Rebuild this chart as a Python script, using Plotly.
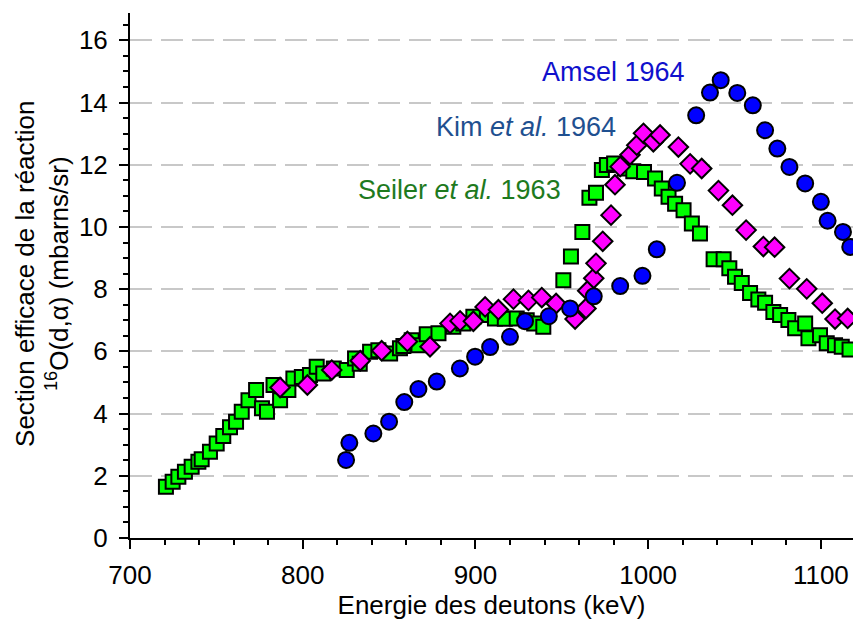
import plotly.graph_objects as go

# Amsel 1964 (blue circles)
amsel_x = [825.1, 827.0, 840.9, 850.0, 858.8, 867.0, 877.6, 891.0, 899.8, 908.5, 920.0, 928.7,
           942.5, 954.8, 968.5, 983.8, 996.7, 1005.0, 1016.7, 1027.8, 1035.8, 1042.0, 1051.6,
           1060.6, 1067.7, 1074.8, 1081.8, 1090.9, 1100.0, 1103.9, 1112.8, 1117.0]
amsel_y = [2.51, 3.06, 3.36, 3.74, 4.37, 4.79, 5.03, 5.45, 5.83, 6.14, 6.47, 6.97,
           7.13, 7.38, 7.77, 8.10, 8.43, 9.28, 11.42, 13.59, 14.32, 14.72, 14.31,
           13.91, 13.11, 12.52, 11.93, 11.40, 10.81, 10.20, 9.84, 9.36]

# Kim et al. 1964 (magenta diamonds)
kim_x = [786.9, 802.7, 816.8, 833.3, 845.7, 860.6, 873.7, 885.3, 891.1, 898.8, 905.6, 913.3,
         922.0, 930.7, 938.4, 946.7, 957.7, 964.0, 965.0, 968.5, 969.8, 973.7, 978.5, 980.8,
         983.8, 989.5, 993.4, 997.3, 1003.0, 1006.9, 1017.5, 1024.3, 1031.0, 1040.7, 1048.8,
         1056.7, 1066.7, 1073.2, 1081.8, 1091.8, 1100.8, 1108.2, 1115.5]
kim_y = [4.84, 4.92, 5.40, 5.70, 6.02, 6.32, 6.15, 6.90, 6.98, 6.97, 7.43, 7.34,
         7.68, 7.64, 7.73, 7.54, 7.04, 7.38, 7.95, 8.35, 8.83, 9.54, 10.38, 11.36,
         11.94, 12.32, 12.63, 13.01, 12.74, 12.96, 12.57, 12.03, 11.88, 11.17, 10.70,
         9.90, 9.37, 9.35, 8.34, 8.01, 7.55, 7.04, 7.06]

# Seiler et al. 1963 (green squares)
seiler_x = [720.8, 724.7, 728.0, 731.8, 735.7, 739.6, 741.5, 746.3, 750.2, 754.0, 757.9, 761.4,
            764.7, 768.6, 773.0, 776.4, 779.3, 783.1, 786.9, 791.7, 794.6, 799.5, 804.2, 808.1,
            811.9, 818.0, 825.5, 830.3, 833.0, 839.0, 843.8, 850.6, 856.3, 858.3, 863.1, 867.0,
            871.8, 878.6, 887.2, 893.0, 898.8, 906.6, 911.3, 917.0, 923.9, 929.7, 934.0, 939.3,
            950.9, 955.3, 961.9, 966.0, 969.8, 973.2, 976.1, 980.3, 986.6, 991.4, 997.6, 1004.0,
            1007.9, 1011.8, 1015.6, 1020.5, 1025.3, 1030.0, 1037.9, 1043.7, 1047.0, 1050.3,
            1054.2, 1059.0, 1063.8, 1067.7, 1072.5, 1076.4, 1081.2, 1085.1, 1090.9, 1092.8,
            1099.5, 1103.4, 1108.2, 1112.1, 1116.6]
seiler_y = [1.65, 1.81, 1.97, 2.13, 2.29, 2.45, 2.53, 2.77, 3.04, 3.28, 3.56, 3.74,
            4.06, 4.43, 4.76, 4.17, 4.06, 4.92, 4.43, 4.76, 5.13, 5.18, 5.24, 5.51,
            5.29, 5.45, 5.40, 5.77, 5.60, 5.99, 6.04, 5.93, 6.10, 6.17, 6.36, 6.20,
            6.55, 6.58, 6.79, 6.90, 7.11, 7.17, 7.06, 7.05, 7.06, 7.00, 6.90, 6.79,
            8.29, 9.05, 9.84, 10.94, 11.10, 11.83, 11.99, 12.04, 11.88, 11.79, 11.77, 11.56,
            11.24, 10.97, 10.75, 10.54, 10.11, 9.79, 8.96, 8.96, 8.67, 8.40,
            8.20, 7.88, 7.67, 7.56, 7.27, 7.17, 7.01, 6.74, 6.90, 6.42,
            6.52, 6.26, 6.20, 6.15, 6.06]

labels = ["Seiler <i>et al.</i> 1963", "Kim <i>et al.</i> 1964", "Amsel 1964"]
label_colors = ["#1E7A1E", "#1F5090", "#1010CC"]
label_x = [950.7, 982.6, 1022.5]
label_y = [11.18, 13.21, 14.97]

ytitle = "Section efficace de la réaction<br><sup>16</sup>O(d,α) (mbarns/sr)"
xtitle = "Energie des deutons (keV)"

FONT = "Arial, Liberation Sans, sans-serif"

fig = go.Figure()
fig.add_trace(go.Scatter(x=seiler_x, y=seiler_y, mode="markers",
                         marker=dict(symbol="square", size=14, color="#00FF00",
                                     line=dict(color="black", width=2))))
fig.add_trace(go.Scatter(x=kim_x, y=kim_y, mode="markers",
                         marker=dict(symbol="diamond", size=15, color="#FF00FF",
                                     line=dict(color="black", width=2))))
fig.add_trace(go.Scatter(x=amsel_x, y=amsel_y, mode="markers",
                         marker=dict(symbol="circle", size=16, color="#0000FF",
                                     line=dict(color="black", width=2))))

for t, c, x, y in zip(labels, label_colors, label_x, label_y):
    fig.add_annotation(x=x, y=y, xref="x", yref="y", text=t, showarrow=False,
                       xanchor="right", yanchor="middle",
                       font=dict(family=FONT, size=27, color=c))

fig.add_annotation(x=-0.1217, y=0.503, xref="paper", yref="paper", text=ytitle,
                   showarrow=False, textangle=-90, xanchor="center", yanchor="middle",
                   font=dict(family=FONT, size=26, color="black"))

fig.update_layout(
    width=853, height=626,
    margin=dict(l=130, r=0, t=13, b=88),
    paper_bgcolor="white", plot_bgcolor="white",
    showlegend=False,
    font=dict(family=FONT, size=26, color="black"),
)
fig.update_xaxes(
    range=[700, 1118.6], dtick=100, tick0=700,
    showline=True, linecolor="black", linewidth=2,
    ticks="outside", ticklen=9, tickwidth=2, tickcolor="black",
    minor=dict(dtick=20, ticks="outside", ticklen=5, tickwidth=2, tickcolor="black"),
    showgrid=False, zeroline=False,
    tickfont=dict(family=FONT, size=26), ticklabelstandoff=4,
    title=dict(text=xtitle, font=dict(family=FONT, size=26), standoff=4),
)
fig.update_yaxes(
    range=[0, 16.88], dtick=2, tick0=0,
    showline=True, linecolor="black", linewidth=2,
    ticks="outside", ticklen=9, tickwidth=2, tickcolor="black",
    minor=dict(dtick=0.5, ticks="outside", ticklen=5, tickwidth=2, tickcolor="black", showgrid=False),
    showgrid=True, gridcolor="#C8C8C8", gridwidth=1.5, griddash="22px,9px",
    zeroline=False,
    tickfont=dict(family=FONT, size=26), ticklabelstandoff=6,
)

fig.write_html("out.html")
